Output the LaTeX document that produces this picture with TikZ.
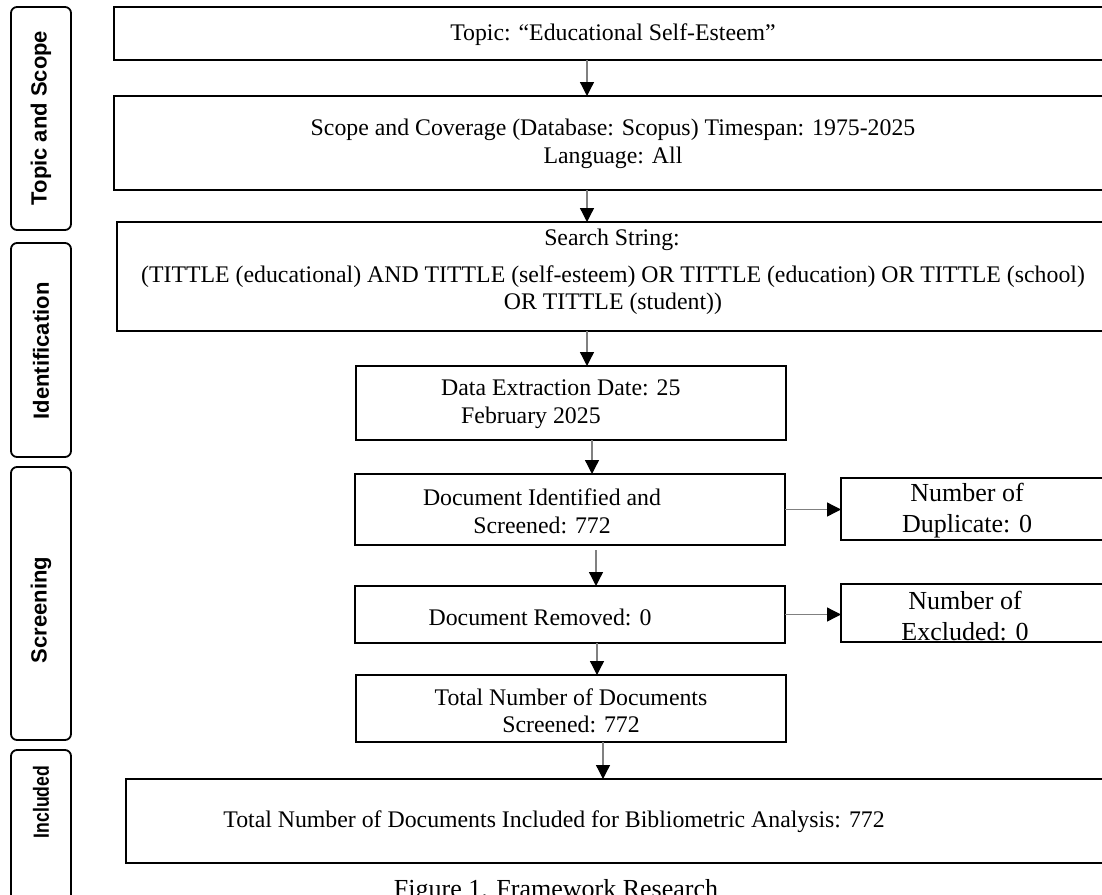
\documentclass[tikz,border=0pt]{standalone}
\usepackage{fontspec}
\setmainfont{Liberation Serif}
\newfontfamily\labfont{Liberation Sans}
\usetikzlibrary{arrows.meta,calc}
\begin{document}
\begin{tikzpicture}[x=1pt,y=-1pt,
  box/.style={draw=black, line width=2.2pt, rectangle, inner sep=0pt, outer sep=0pt},
  lab/.style={draw=black, line width=1.8pt, rounded corners=6pt, rectangle, inner sep=0pt, outer sep=0pt},
  labtxt/.style={font=\labfont\bfseries\fontsize{22}{26}\selectfont, rotate=90, inner sep=0pt},
  txt/.style={font=\fontsize{23.8}{28}\selectfont, align=center, inner sep=0pt},
  bigtxt/.style={font=\fontsize{26}{31}\selectfont, align=center, inner sep=0pt},
  arr/.style={draw=black!50, line width=1.3pt, -{Triangle[length=14pt,width=14pt,color=black]}},
]
\useasboundingbox (0,0) rectangle (1102,894);
\clip (0,0) rectangle (1102,894);
\fill[white] (0,0) rectangle (1102,894);

% side labels
\node[lab, minimum width=60pt, minimum height=223pt] (l1) at (41,118.5) {};
\node[lab, minimum width=60pt, minimum height=214pt] (l2) at (41,350) {};
\node[lab, minimum width=60pt, minimum height=273pt] (l3) at (41,603.5) {};
\node[lab, minimum width=60pt, minimum height=160pt] (l4) at (41,830) {};
\node[labtxt] (lt1) at (41,118) {Topic and Scope};
\node[labtxt] (lt2) at (41,351) {Identification};
\node[labtxt] (lt3) at (41,610) {Screening};
\node[labtxt] (lt4) at (41,802) {\scalebox{0.8}[1]{Included}};

% main boxes
\node[box, minimum width=998pt, minimum height=53pt] (b1) at (613,33.5) {};
\node[box, minimum width=998pt, minimum height=94pt] (b2) at (613,143) {};
\node[box, minimum width=995pt, minimum height=109pt] (b3) at (614.5,276.5) {};
\node[box, minimum width=430pt, minimum height=74pt] (b4) at (571,403) {};
\node[box, minimum width=430pt, minimum height=71pt] (b5) at (570,509.5) {};
\node[box, minimum width=430pt, minimum height=57pt] (b6) at (570,614.5) {};
\node[box, minimum width=430pt, minimum height=67pt] (b7) at (571,708.5) {};
\node[box, minimum width=986pt, minimum height=84pt] (b8) at (619,821) {};
\node[box, minimum width=271pt, minimum height=62pt] (dup) at (976.5,509) {};
\node[box, minimum width=271pt, minimum height=58pt] (exc) at (976.5,613) {};

% texts
\node[txt] (t1) at (613,35) {Topic: “Educational Self-Esteem”};
\node[txt] (t2) at (613,144) {Scope and Coverage (Database: Scopus) Timespan: 1975-2025\\Language: All};
\node[txt] (t3a) at (612,240) {Search String:};
\node[txt, font=\fontsize{23.8}{27}\selectfont] (t3b) at (613,290) {(TITTLE (educational) AND TITTLE (self-esteem) OR TITTLE (education) OR TITTLE (school)\\OR TITTLE (student))};
\node[txt, align=left, anchor=west] (t4) at (441,404) {Data Extraction Date: 25\\\hspace*{20pt}February 2025};
\node[txt] (t5) at (542,511) {Document Identified and\\Screened: 772};
\node[txt] (t6) at (540,617) {Document Removed: 0};
\node[txt, font=\fontsize{23.8}{27}\selectfont] (t7) at (571,710.5) {Total Number of Documents\\Screened: 772};
\node[txt] (t8) at (554,822) {Total Number of Documents Included for Bibliometric Analysis: 772};
\node[bigtxt] (td) at (967,511) {Number of\\Duplicate: 0};
\node[bigtxt] (te) at (965,616) {Number of\\Excluded: 0};
\node[bigtxt, anchor=north] (cap) at (556,879) {Figure 1. Framework Research};

% arrow x positions
\coordinate (x1) at (587,0);
\coordinate (x3) at (587,0);
\coordinate (x4) at (592,0);
\coordinate (x5) at (596,0);
\coordinate (x6) at (597,0);
\coordinate (x7) at (603,0);

\draw[arr] (b1.south -| x1) -- (b2.north -| x1);
\draw[arr] (b2.south -| x1) -- (b3.north -| x1);
\draw[arr] (b3.south -| x3) -- (b4.north -| x3);
\draw[arr] (b4.south -| x4) -- (b5.north -| x4);
\draw[arr] ($(b5.south -| x5)+(0,5)$) -- (b6.north -| x5);
\draw[arr] (b6.south -| x6) -- (b7.north -| x6);
\draw[arr] (b7.south -| x7) -- (b8.north -| x7);
\draw[arr] (b5.east) -- (dup.west |- b5.east);
\draw[arr] (b6.east) -- (exc.west |- b6.east);
\end{tikzpicture}
\end{document}
